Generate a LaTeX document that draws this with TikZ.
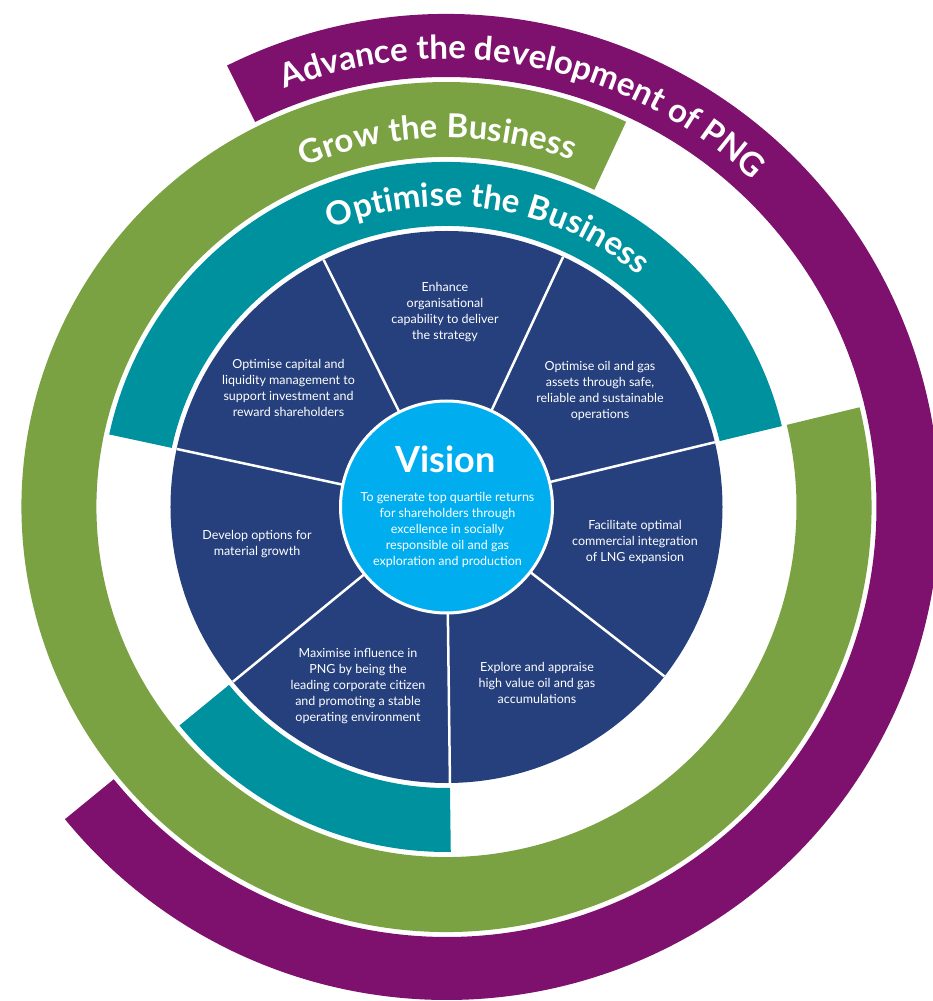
\documentclass[tikz,border=0pt]{standalone}
\usepackage{fontspec}
\setmainfont{Lato}
\usetikzlibrary{decorations.text}

\definecolor{pngpurple}{HTML}{7E106E}
\definecolor{pnggreen}{HTML}{7AA242}
\definecolor{pngteal}{HTML}{00919F}
\definecolor{pngnavy}{HTML}{25407D}
\definecolor{pngsky}{HTML}{00AEEF}

\newcommand{\bandfont}{\bfseries\fontsize{33}{33}\selectfont}

\tikzset{
  segtext/.style={text=white, align=center, inner sep=0pt, font=\fontsize{12.5}{16}\selectfont},
  bandtext/.style={decorate, decoration={text along path, text align=center, text color=white}},
}

\begin{document}
\begin{tikzpicture}[x=1pt,y=1pt]
        \useasboundingbox (-446.5,-494) rectangle (486.5,507);
        \clip (-446.5,-494) rectangle (486.5,507);

        % Advance the development of PNG
        \fill[pngpurple] (-140.71:430) arc[start angle=-140.71, end angle=116.43, radius=430]
          -- (116.43:493) arc[start angle=116.43, end angle=-140.71, radius=493] -- cycle;

        % Grow the Business
        \fill[pnggreen] (65:350) arc[start angle=65, end angle=373.57, radius=350]
          -- (13.57:425) arc[start angle=373.57, end angle=65, radius=425] -- cycle;

        % Optimise the Business
        \fill[pngteal] (13.57:281) arc[start angle=13.57, end angle=167.86, radius=281]
          -- (167.86:345) arc[start angle=167.86, end angle=13.57, radius=345] -- cycle;
        \fill[pngteal] (219.29:281) arc[start angle=219.29, end angle=270.71, radius=281]
          -- (270.71:345) arc[start angle=270.71, end angle=219.29, radius=345] -- cycle;

        % seven objectives
        \fill[pngnavy] (0,0) circle[radius=276];
        \foreach \k in {0,...,6}
          \draw[white, line width=2.5pt] (0,0) -- ({13.57+51.43*\k}:276);

        % Vision
        \filldraw[fill=pngsky, draw=white, line width=3pt] (0,0) circle[radius=106];

        % band titles
        \path[bandtext, decoration={text={|\bandfont|Advance the development of PNG}}]
          (139:448) arc[start angle=139, end angle=19, radius=448];
        \path[bandtext, decoration={text={|\bandfont|Grow the Business}}]
          (131.4:369) arc[start angle=131.4, end angle=51.4, radius=369];
        \path[bandtext, decoration={text={|\bandfont|Optimise the Business}}]
          (131.4:301) arc[start angle=131.4, end angle=31.4, radius=301];

        % texts
        \node[text=white, font=\bfseries\fontsize{36}{36}\selectfont] (visiontitle) at (-1,48) {Vision};
        \node[segtext] (visiontext) at (1,-22.5) {To generate top quartile returns\\for shareholders through\\excellence in socially\\responsible oil and gas\\exploration and production};

        \node[segtext] (enhance) at (-1.5,195) {Enhance\\organisational\\capability to deliver\\the strategy};
        \node[segtext] (capital) at (-158,119.5) {Optimise capital and\\liquidity management to\\support investment and\\reward shareholders};
        \node[segtext] (assets) at (153.5,116.5) {Optimise oil and gas\\assets through safe,\\reliable and sustainable\\operations};
        \node[segtext] (lng) at (188.5,-35) {Facilitate optimal\\commercial integration\\of LNG expansion};
        \node[segtext] (explore) at (90.5,-176) {Explore and appraise\\high value oil and gas\\accumulations};
        \node[segtext] (influence) at (-88.5,-179) {Maximise influence in\\PNG by being the\\leading corporate citizen\\and promoting a stable\\operating environment};
        \node[segtext] (growth) at (-189.5,-37.5) {Develop options for\\material growth};

\end{tikzpicture}
\end{document}
